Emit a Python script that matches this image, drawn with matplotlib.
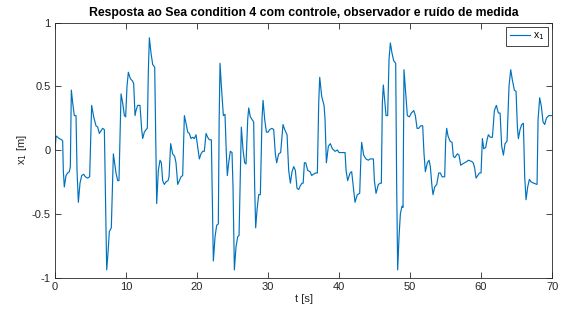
import numpy as np
import matplotlib.pyplot as plt

plt.rcParams['font.family'] = ['Liberation Sans', 'DejaVu Sans']

# valores (t [s], x1 [m])
t = [0.0, 0.15, 0.61, 0.94, 1.08, 1.17, 1.31, 1.55, 1.78, 2.02, 2.16, 2.30, 2.49, 2.72, 2.96,
     3.10, 3.29, 3.52, 3.76, 4.04, 4.27, 4.60, 4.88, 5.16, 5.45, 5.77, 6.01, 6.24, 6.48, 6.71,
     6.95, 7.09, 7.28, 7.46, 7.65, 7.93, 8.22, 8.59, 8.83, 9.01, 9.30, 9.53, 9.77, 9.95, 10.14,
     10.33, 10.61, 10.94, 11.08, 11.27, 11.41, 11.64, 11.97, 12.21, 12.35, 12.58, 12.82, 13.0,
     13.15, 13.29, 13.52, 13.76, 14.04, 14.23, 14.32, 14.55, 14.79, 14.98, 15.16, 15.4, 15.63,
     15.92, 16.06, 16.29, 16.57, 16.85, 17.04, 17.28, 17.51, 17.75, 17.98, 18.22, 18.45, 18.69,
     18.92, 19.15, 19.39, 19.62, 19.86, 20.33, 20.56, 20.8, 21.03, 21.27, 21.5, 21.74, 22.02,
     22.21, 22.3, 22.54, 22.77, 23.0, 23.12, 23.24, 23.43, 23.71, 23.94, 24.13, 24.27, 24.46,
     24.69, 24.93, 25.07, 25.26, 25.49, 25.73, 25.92, 26.24, 26.48, 26.71, 26.9, 27.14, 27.28,
     27.51, 27.75, 27.98, 28.12, 28.26, 28.45, 28.69, 28.92, 29.15, 29.3, 29.53, 29.77, 30.0,
     30.23, 30.56, 30.8, 31.03, 31.22, 31.5, 31.78, 32.11, 32.35, 32.68, 32.91, 33.15, 33.38,
     33.62, 33.85, 34.08, 34.32, 34.55, 34.79, 34.95, 35.12, 35.31, 35.59, 35.92, 36.15, 36.39,
     36.71, 36.95, 37.14, 37.28, 37.56, 37.89, 38.03, 38.22, 38.5, 38.78, 39.06, 39.44, 39.77,
     40.0, 40.38, 40.85, 40.99, 41.22, 41.55, 41.78, 42.02, 42.25, 42.58, 42.91, 43.1, 43.19,
     43.47, 43.8, 44.13, 44.37, 44.84, 44.98, 45.21, 45.54, 45.82, 45.96, 46.1, 46.24, 46.43,
     46.62, 46.85, 47.04, 47.23, 47.46, 47.7, 47.98, 48.12, 48.26, 48.45, 48.64, 48.87, 49.01,
     49.15, 49.39, 49.62, 49.91, 50.19, 50.52, 50.75, 50.99, 51.22, 51.5, 51.78, 51.97, 52.16,
     52.44, 52.68, 52.86, 53.1, 53.24, 53.47, 53.76, 54.04, 54.27, 54.51, 54.88, 55.02, 55.16,
     55.35, 55.63, 55.92, 56.1, 56.29, 56.67, 56.9, 57.14, 57.37, 57.7, 58.0, 58.22, 58.69,
     58.9, 59.1, 59.3, 59.53, 59.77, 60.0, 60.19, 60.38, 60.66, 60.85, 61.03, 61.31, 61.6,
     61.88, 62.16, 62.44, 62.68, 62.91, 63.15, 63.38, 63.66, 63.94, 64.18, 64.41, 64.69, 64.93,
     65.12, 65.26, 65.49, 65.73, 65.96, 66.15, 66.34, 66.57, 66.81, 67.04, 67.42, 67.89, 68.03,
     68.26, 68.5, 68.73, 68.97, 69.2, 69.53, 69.91, 70.0]
x1 = [0.0, 0.11, 0.09, 0.08, 0.07, -0.16, -0.29, -0.2, -0.18, -0.17, -0.13, 0.47, 0.37, 0.27, 0.27,
      -0.16, -0.41, -0.26, -0.2, -0.19, -0.21, -0.22, -0.21, 0.35, 0.26, 0.19, 0.18, 0.13, 0.15, 0.17,
      0.16, -0.29, -0.94, -0.81, -0.64, -0.61, -0.03, -0.18, -0.24, -0.24, 0.44, 0.37, 0.27, 0.26, 0.50,
      0.61, 0.56, 0.54, 0.52, 0.27, 0.31, 0.35, 0.35, 0.16, 0.09, 0.14, 0.16, 0.17,
      0.63, 0.88, 0.76, 0.67, 0.65, -0.08, -0.42, -0.16, -0.08, -0.1, -0.24, -0.27, -0.25,
      -0.24, -0.21, 0.05, -0.03, -0.05, -0.1, -0.27, -0.24, -0.21, -0.2, 0.27, 0.21, 0.14,
      0.13, 0.09, 0.1, 0.09, 0.12, -0.07, -0.03, -0.01, -0.01, 0.13, 0.1, 0.08, 0.08,
      -0.55, -0.87, -0.68, -0.59, -0.58, 0.24, 0.68, 0.5, 0.27, 0.28, -0.03, -0.2, -0.1,
      -0.01, -0.02, -0.29, -0.94, -0.76, -0.68, -0.67, 0.18, 0.0, -0.1, -0.11, 0.24, 0.33,
      0.26, 0.24, 0.22, -0.29, -0.61, -0.47, -0.35, -0.35, 0.24, 0.39, 0.24, 0.14, 0.14,
      0.16, 0.17, 0.16, -0.03, -0.1, -0.03, -0.02, 0.2, 0.16, 0.12, -0.16, -0.26, -0.17,
      -0.13, -0.16, -0.3, -0.31, -0.28, -0.26, -0.26, -0.1, -0.1, -0.16, -0.17, -0.2, -0.19,
      -0.18, -0.18, 0.37, 0.57, 0.42, 0.35, 0.24, -0.1, 0.03, 0.05, 0.01, -0.01, 0.0,
      -0.02, -0.02, -0.02, -0.16, -0.24, -0.18, -0.17, -0.29, -0.41, -0.35, -0.34, -0.03, 0.06,
      -0.04, -0.07, -0.08, -0.07, -0.07, -0.24, -0.34, -0.27, -0.26, -0.26, 0.37, 0.51, 0.39,
      0.27, 0.27, 0.71, 0.84, 0.76, 0.7, 0.68, -0.29, -0.94, -0.68, -0.5, -0.44, -0.45,
      0.63, 0.44, 0.27, 0.26, 0.29, 0.31, 0.27, 0.17, 0.17, 0.19, 0.19, -0.03, -0.17,
      -0.1, -0.08, -0.13, -0.29, -0.35, -0.29, -0.27, -0.18, -0.18, -0.21, -0.21, 0.08, 0.17,
      0.11, 0.07, 0.06, -0.05, -0.06, -0.03, -0.04, -0.12, -0.11, -0.1, -0.09, -0.08, -0.09,
      -0.1, -0.14, -0.22, -0.2, -0.18, -0.18, 0.09, 0.01, 0.02, 0.08, 0.12, 0.1, 0.1,
      0.31, 0.35, 0.29, 0.29, 0.03, -0.04, 0.05, 0.07, 0.5, 0.63, 0.55, 0.47, 0.46,
      0.18, 0.09, 0.16, 0.2, 0.21, -0.21, -0.39, -0.29, -0.23, -0.25, -0.26, -0.27, 0.24,
      0.41, 0.34, 0.22, 0.2, 0.25, 0.27, 0.27, 0.27]

x_ticks = [0, 10, 20, 30, 40, 50, 60, 70]
y_ticks = [-1, -0.5, 0, 0.5, 1]
y_ticklabels = ['-1', '-0.5', '0', '0.5', '1']

fig = plt.figure(figsize=(5.7, 3.15), dpi=100)
ax = fig.add_axes([0.0965, 0.119, 0.872, 0.8095])

ax.plot(t, x1, color='#0072BD', lw=0.85, label='x$_1$')
ax.set_xlim(0, 70)
ax.set_ylim(-1, 1)
ax.set_xticks(x_ticks)
ax.set_yticks(y_ticks)
ax.set_yticklabels(y_ticklabels)

cinza = '#262626'
for s in ax.spines.values():
    s.set_color(cinza)
    s.set_linewidth(0.6)
ax.tick_params(direction='in', top=True, right=True, length=4, width=0.6,
               colors=cinza, labelsize=8, pad=3)

ax.set_xlabel('t [s]', fontsize=8, color=cinza, labelpad=2)
ax.set_ylabel('x$_1$ [m]', fontsize=8, color=cinza, labelpad=2)
ax.set_title('Resposta ao Sea condition 4 com controle, observador e ruído de medida',
             fontsize=8.8, fontweight='bold', pad=5)

leg = ax.legend(loc='upper right', fontsize=7.5, handlelength=1.9, borderpad=0.35,
                handletextpad=0.3, borderaxespad=0.4, fancybox=False, framealpha=1)
leg.get_frame().set_edgecolor(cinza)
leg.get_frame().set_linewidth(0.6)

fig.savefig('out.png', dpi=100)
